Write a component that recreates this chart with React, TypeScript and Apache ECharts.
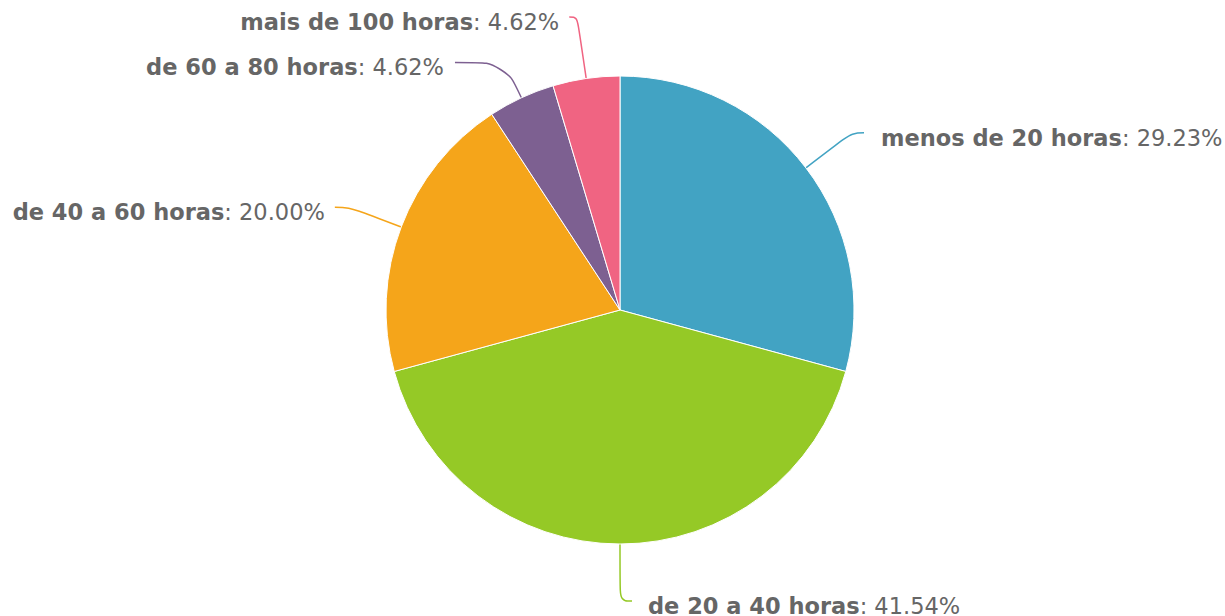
import React, { useEffect, useRef } from "react";
import * as echarts from "echarts";

const categories = ["menos de 20 horas", "de 20 a 40 horas", "de 40 a 60 horas", "de 60 a 80 horas", "mais de 100 horas"];
const counts = [19, 27, 13, 3, 3];
const colors = ["#42a3c3", "#95c926", "#f5a51a", "#7d6091", "#f06482"];
const lineLengths = [58, 57, 56, 39, 62];
const lineLengths2 = [12, 12, 14, 50, 8];
const labelGaps = [17, 16, 10, 11, 10];

export default function App() {
  const ref = useRef<HTMLDivElement>(null);
  useEffect(() => {
    document.body.style.margin = "0";
    const total = counts.reduce((a, b) => a + b, 0);
    const chart = echarts.init(ref.current!, undefined, { renderer: "svg" });
    chart.setOption({
      animation: false,
      backgroundColor: "#ffffff",
      series: [
        {
          type: "pie",
          center: [620, 310],
          radius: 234,
          startAngle: 90,
          clockwise: true,
          avoidLabelOverlap: false,
          itemStyle: { borderColor: "#ffffff", borderWidth: 1 },
          label: {
            show: true,
            position: "outside",
            fontFamily: "DejaVu Sans",
            fontSize: 22.5,
            lineHeight: 18,
            color: "#666666",
            padding: [10, 0, 0, 0],
            formatter: (p: any) => `{b|${p.name}}: ${((p.value / total) * 100).toFixed(2)}%`,
            rich: {
              b: { fontWeight: "bold", fontFamily: "DejaVu Sans", fontSize: 22.5, lineHeight: 18, color: "#666666" },
            },
          },
          labelLine: { show: true, smooth: 0.4, lineStyle: { width: 1.5 } },
          data: categories.map((name, i) => ({
            name,
            value: counts[i],
            itemStyle: { color: colors[i] },
            label: { distanceToLabelLine: labelGaps[i] },
            labelLine: { length: lineLengths[i], length2: lineLengths2[i] },
          })),
        },
      ],
    });
    return () => chart.dispose();
  }, []);
  return <div ref={ref} style={{ width: 1225, height: 616 }} />;
}
